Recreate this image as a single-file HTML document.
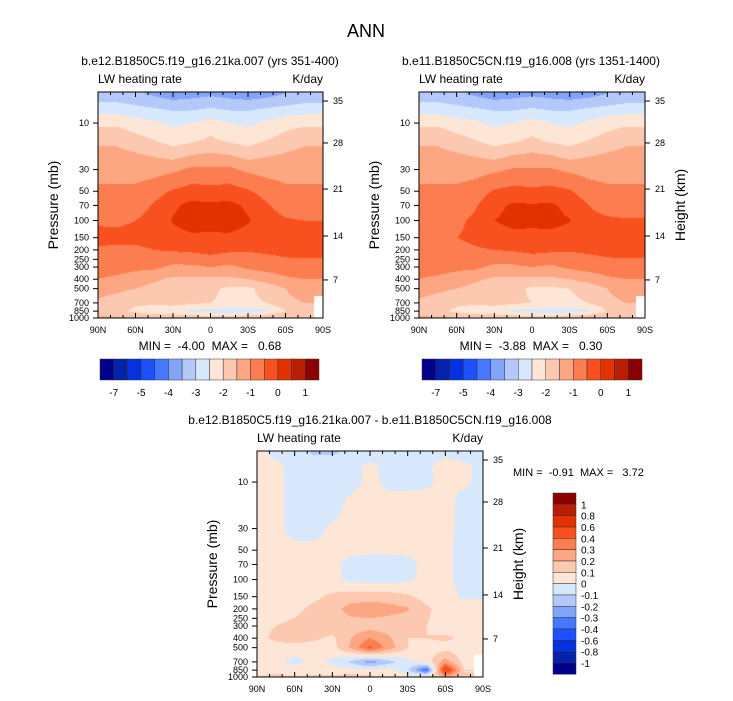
<!DOCTYPE html>
<html><head><meta charset="utf-8"><style>
body{margin:0;background:#fff;width:733px;height:701px;overflow:hidden;position:relative;font-family:"Liberation Sans",sans-serif}
canvas{position:absolute}
svg{position:absolute;left:0;top:0}
text{white-space:pre}
</style></head><body>
<canvas id="cA" width="225" height="226" style="left:98px;top:92px"></canvas>
<canvas id="cB" width="226" height="226" style="left:419px;top:92px"></canvas>
<canvas id="cC" width="226" height="226" style="left:257px;top:451px"></canvas>
<svg id="ov" width="733" height="701" font-family="Liberation Sans, sans-serif" xml:space="preserve"></svg>
<script>
const pLevels=[5,7,10,15,20,30,50,70,100,150,200,300,400,500,700,850,1000];
const lats=[90,75,60,45,30,15,0,-15,-30,-45,-60,-75,-90];
const pTicks=[10,30,50,70,100,150,200,250,300,400,500,700,850,1000];
const hTickLabels=["35","28","21","14","7"];
const hTickP=[5.94,16.0,47.5,144,407];
const xTickLabels=["90N","60N","30N","0","30S","60S","90S"];
const levelsAB=[-7,-6,-5,-4.5,-4,-3.5,-3,-2.5,-2,-1.5,-1,-0.5,0,0.5,1];
const labelsAB=["-7","-5","-4","-3","-2","-1","0","1"];
const levelsC=[-1,-0.8,-0.6,-0.4,-0.3,-0.2,-0.1,0,0.1,0.2,0.3,0.4,0.6,0.8,1];
const labelsC=["1","0.8","0.6","0.4","0.3","0.2","0.1","0","-0.1","-0.2","-0.3","-0.4","-0.6","-0.8","-1"];
const colors=["#00008b","#0522aa","#0532e0","#1e50ff","#4678ff","#82a5fa","#b4c8fa","#d7e8fc","#fee6d6","#fdc8b0","#fca682","#fb7d50","#f8501e","#e13200","#b91e00","#8b0000"];
const N=NaN;
const fieldA=[
[-3.3,-3.3,-3.4,-3.6,-3.8,-3.7,-3.6,-3.7,-3.8,-3.7,-3.5,-3.4,-3.4],
[-2.8,-2.8,-2.9,-3.0,-3.1,-3.1,-3.0,-3.1,-3.1,-3.0,-2.9,-2.8,-2.8],
[-2.1,-2.1,-2.3,-2.4,-2.6,-2.5,-2.3,-2.5,-2.6,-2.4,-2.2,-2.1,-2.1],
[-1.6,-1.6,-1.8,-2.0,-2.2,-2.1,-1.9,-2.1,-2.2,-2.0,-1.8,-1.6,-1.6],
[-1.4,-1.4,-1.5,-1.6,-1.8,-1.6,-1.5,-1.6,-1.8,-1.6,-1.5,-1.4,-1.4],
[-1.2,-1.2,-1.2,-1.2,-1.1,-0.9,-0.9,-0.9,-1.1,-1.2,-1.2,-1.2,-1.2],
[-0.9,-0.9,-0.9,-0.7,-0.45,-0.3,-0.35,-0.3,-0.45,-0.7,-0.9,-0.9,-0.9],
[-0.8,-0.8,-0.7,-0.45,-0.1,0.15,0.1,0.15,-0.1,-0.45,-0.7,-0.8,-0.8],
[-0.6,-0.6,-0.5,-0.35,0.05,0.25,0.2,0.25,0.05,-0.3,-0.45,-0.5,-0.5],
[-0.3,-0.35,-0.35,-0.3,-0.2,-0.1,-0.1,-0.1,-0.2,-0.3,-0.3,-0.3,-0.3],
[-0.6,-0.6,-0.6,-0.5,-0.45,-0.4,-0.3,-0.4,-0.45,-0.4,-0.35,-0.3,-0.3],
[-0.8,-0.8,-0.9,-0.9,-1.1,-1.1,-1.0,-1.1,-0.9,-0.8,-0.7,-0.7,-0.7],
[-1.0,-1.1,-1.2,-1.4,-1.6,-1.6,-1.6,-1.6,-1.5,-1.3,-1.1,-1.0,-1.0],
[-1.3,-1.4,-1.5,-1.7,-1.8,-1.8,-1.9,-2.1,-2.1,-1.8,-1.5,-1.3,-1.3],
[-1.6,-1.7,-1.9,-1.9,-1.8,-1.9,-2.0,-2.1,-2.1,-2.0,-1.6,-1.5,N],
[-1.8,-1.9,-2.1,-2.3,-2.4,-2.6,-2.7,-2.8,-2.8,-2.6,-2.0,-1.8,N],
[-1.4,-1.4,-1.5,-1.6,-1.6,-1.6,-1.7,-1.7,-1.5,-1.4,-1.5,-1.6,N]];
const fieldB=[
[-3.3,-3.3,-3.4,-3.6,-3.8,-3.7,-3.6,-3.7,-3.8,-3.7,-3.5,-3.4,-3.4],
[-2.8,-2.8,-2.9,-3.0,-3.1,-3.1,-3.0,-3.1,-3.1,-3.0,-2.9,-2.8,-2.8],
[-2.1,-2.1,-2.3,-2.4,-2.6,-2.5,-2.3,-2.5,-2.6,-2.4,-2.2,-2.1,-2.1],
[-1.6,-1.6,-1.8,-2.0,-2.2,-2.1,-1.9,-2.1,-2.2,-2.0,-1.8,-1.6,-1.6],
[-1.4,-1.4,-1.5,-1.6,-1.8,-1.6,-1.5,-1.6,-1.8,-1.6,-1.5,-1.4,-1.4],
[-1.2,-1.2,-1.2,-1.2,-1.1,-0.95,-0.95,-0.95,-1.1,-1.2,-1.2,-1.2,-1.2],
[-0.9,-0.9,-0.9,-0.75,-0.45,-0.35,-0.4,-0.35,-0.45,-0.75,-0.9,-0.9,-0.9],
[-0.8,-0.8,-0.75,-0.55,-0.15,0.08,0.05,0.08,-0.15,-0.5,-0.75,-0.8,-0.8],
[-0.7,-0.7,-0.6,-0.4,0.0,0.15,0.12,0.15,0.02,-0.3,-0.4,-0.45,-0.45],
[-0.6,-0.55,-0.5,-0.4,-0.25,-0.15,-0.15,-0.15,-0.2,-0.3,-0.3,-0.3,-0.3],
[-0.7,-0.7,-0.65,-0.55,-0.5,-0.45,-0.35,-0.4,-0.45,-0.4,-0.35,-0.3,-0.3],
[-0.8,-0.8,-0.9,-0.9,-1.1,-1.1,-1.0,-1.1,-0.9,-0.8,-0.7,-0.7,-0.7],
[-1.0,-1.1,-1.2,-1.4,-1.6,-1.6,-1.6,-1.6,-1.5,-1.3,-1.1,-1.0,-1.0],
[-1.3,-1.4,-1.5,-1.7,-1.8,-1.8,-2.1,-2.1,-2.0,-1.8,-1.5,-1.3,-1.3],
[-1.6,-1.7,-1.9,-1.9,-1.8,-1.9,-2.0,-2.1,-2.1,-2.0,-1.6,-1.5,N],
[-1.8,-1.9,-2.1,-2.3,-2.4,-2.6,-2.7,-2.8,-2.8,-2.6,-2.0,-1.8,N],
[-1.4,-1.4,-1.5,-1.6,-1.6,-1.6,-1.7,-1.7,-1.5,-1.4,-1.5,-1.6,N]];
const fieldC=[
[0.03,-0.03,-0.06,-0.11,-0.11,-0.08,-0.06,-0.06,-0.06,-0.05,-0.03,-0.05,-0.05],
[0.04,0.03,-0.04,-0.05,-0.05,-0.04,0.03,-0.04,-0.04,-0.02,0.05,0.03,-0.04],
[0.04,0.03,-0.04,-0.05,-0.05,-0.04,0.03,-0.03,-0.03,-0.02,0.03,0.02,-0.04],
[0.04,0.03,-0.04,-0.05,-0.04,0.02,0.04,0.03,0.03,0.03,0.03,-0.03,-0.04],
[0.04,0.03,-0.04,-0.05,-0.03,0.03,0.04,0.03,0.03,0.03,0.03,-0.03,-0.04],
[0.04,0.03,-0.04,-0.04,0.02,0.03,0.04,0.03,0.03,0.03,0.03,-0.03,-0.04],
[0.04,0.03,0.03,0.03,0.03,0.03,0.02,0.02,0.02,0.03,0.02,-0.03,-0.04],
[0.04,0.03,0.03,0.03,0.03,-0.04,-0.05,-0.05,-0.03,0.03,0.02,-0.03,-0.04],
[0.04,0.03,0.03,0.03,0.03,-0.03,-0.04,-0.04,-0.02,0.03,0.02,-0.03,-0.04],
[0.04,0.05,0.06,0.08,0.12,0.15,0.16,0.15,0.12,0.06,0.03,-0.01,-0.01],
[0.05,0.06,0.08,0.12,0.16,0.24,0.26,0.24,0.21,0.12,0.05,0.04,0.04],
[0.08,0.1,0.12,0.14,0.15,0.15,0.15,0.14,0.13,0.1,0.05,0.05,0.05],
[0.07,0.12,0.15,0.12,0.08,0.2,0.3,0.22,0.1,0.1,0.12,0.08,0.06],
[0.05,0.06,0.06,0.05,0.06,0.22,0.42,0.25,0.1,0.05,0.06,0.05,0.05],
[0.03,0.03,-0.04,0.03,-0.02,-0.12,-0.25,-0.14,-0.03,0.05,0.25,0.06,N],
[0.06,0.08,0.06,0.05,0.04,0.03,0.02,0.04,-0.08,-0.4,0.6,0.1,N],
[0.1,0.12,0.1,0.12,0.12,0.15,0.12,0.1,0.06,0.1,0.2,0.1,N]];

const PH=226, PTOP=Math.log10(4.8), PBOT=3;
function yOfP(p){return (Math.log10(p)-PTOP)/(PBOT-PTOP)*PH;}
function xOfLat(lat,w){return (90-lat)/180*w;}
function colorIdx(v,lev){let i=0;while(i<lev.length&&v>=lev[i])i++;return i;}
function hex(c){return [parseInt(c.substr(1,2),16),parseInt(c.substr(3,2),16),parseInt(c.substr(5,2),16)];}
const rgb=colors.map(hex);
const lp=pLevels.map(p=>Math.log10(p));
function sample(f,lat,p){
  const l=Math.log10(p);
  let r=0;while(r<lp.length-2&&l>lp[r+1])r++;
  let ty=(l-lp[r])/(lp[r+1]-lp[r]);ty=Math.max(0,Math.min(1,ty));
  let cf=(90-lat)/15;let c=Math.min(11,Math.floor(cf));let tx=cf-c;
  const nr=ty<0.5?r:r+1,nc=tx<0.5?c:c+1;
  if(isNaN(f[nr][nc]))return NaN;
  const g=(a,b)=>isNaN(f[a][b])?f[nr][nc]:f[a][b];
  return (1-ty)*((1-tx)*g(r,c)+tx*g(r,c+1))+ty*((1-tx)*g(r+1,c)+tx*g(r+1,c+1));
}
function draw(id,f,lev){
  const cv=document.getElementById(id),ctx=cv.getContext('2d');
  const w=cv.width,h=cv.height,img=ctx.createImageData(w,h);
  for(let y=0;y<h;y++){const p=Math.pow(10,PTOP+(y+0.5)/h*(PBOT-PTOP));
    for(let x=0;x<w;x++){const lat=90-(x+0.5)/w*180;const v=sample(f,lat,p);
      const k=(y*w+x)*4;let c=[255,255,255];if(!isNaN(v))c=rgb[colorIdx(v,lev)];
      img.data[k]=c[0];img.data[k+1]=c[1];img.data[k+2]=c[2];img.data[k+3]=255;}}
  ctx.putImageData(img,0,0);
}
draw('cA',fieldA,levelsAB);draw('cB',fieldB,levelsAB);draw('cC',fieldC,levelsC);

const svg=document.getElementById('ov');const NS="http://www.w3.org/2000/svg";
function el(t,a,txt){const e=document.createElementNS(NS,t);for(const k in a)e.setAttribute(k,a[k]);if(txt!==undefined)e.textContent=txt;svg.appendChild(e);return e;}
function txt(x,y,s,size,anchor,name,extra){const e=el('text',Object.assign({x:x,y:y,'font-size':size,'text-anchor':anchor||'middle',fill:'#000'},extra||{}),s);
  
  return e;}
function panel(x0,y0,w,leftTitle,rightTitle,tag){
  const fr=el('rect',{x:x0,y:y0,width:w,height:PH,fill:'none',stroke:'#000','stroke-width':1});
  
  
  txt(x0,y0-9,'LW heating rate',12,'start',tag+'-variable-label');
  txt(x0+w,y0-9,'K/day',12,'end',tag+'-units-label');
  for(let lat=90;lat>=-90;lat-=10){const x=x0+xOfLat(lat,w);const maj=lat%30===0;const L=maj?5:3;
    el('line',{x1:x,y1:y0+PH,x2:x,y2:y0+PH-L,stroke:'#000'});el('line',{x1:x,y1:y0,x2:x,y2:y0+L,stroke:'#000'});}
  xTickLabels.forEach((s,i)=>txt(x0+i*w/6,y0+PH+15,s,9,'middle',tag+'-x-tick-label'));
  pTicks.forEach(p=>{const y=y0+yOfP(p);el('line',{x1:x0-5,y1:y,x2:x0,y2:y,stroke:'#000'});
    txt(x0-9,y+3,String(p),9,'end',tag+'-y-tick-label');});
  hTickP.forEach((p,i)=>{const y=y0+yOfP(p);el('line',{x1:x0+w,y1:y,x2:x0+w+5,y2:y,stroke:'#000'});
    txt(x0+w+10,y+3,hTickLabels[i],9,'start',tag+'-height-tick-label');});
  if(leftTitle)txt(0,0,'Pressure (mb)',14,'middle',tag+'-y-axis-title',{transform:`translate(${x0-40},${y0+PH/2}) rotate(-90)`});
  if(rightTitle)txt(0,0,'Height (km)',14,'middle',tag+'-right-axis-title',{transform:`translate(${x0+w+40},${y0+PH/2}) rotate(-90)`});
}
txt(366,37,'ANN',18,'middle','main-title');
txt(210,65,'b.e12.B1850C5.f19_g16.21ka.007 (yrs 351-400)',12,'middle','left-panel-title');
txt(531,65,'b.e11.B1850C5CN.f19_g16.008 (yrs 1351-1400)',12,'middle','right-panel-title');
txt(370,424,'b.e12.B1850C5.f19_g16.21ka.007 - b.e11.B1850C5CN.f19_g16.008',12,'middle','diff-panel-title');
panel(98,92,225,true,false,'left');
panel(419,92,226,true,true,'right');
panel(257,451,226,true,true,'diff');
txt(210,350,'MIN =  -4.00  MAX =   0.68',12,'middle','left-minmax');
txt(531,350,'MIN =  -3.88  MAX =   0.30',12,'middle','right-minmax');
txt(513,476,'MIN =  -0.91  MAX =   3.72',11,'start','diff-minmax');
function hbar(x0,w,tag){const bw=w/16;
  colors.forEach((c,i)=>{const r=el('rect',{x:x0+i*bw,y:359,width:bw,height:21,fill:c,stroke:'#333','stroke-width':0.5});
    
    });
  const idx=[1,3,5,7,9,11,13,15];
  labelsAB.forEach((s,i)=>txt(x0+idx[i]*bw,396,s,10,'middle',tag+'-colorbar-label'));}
hbar(100,219,'left');hbar(422,220,'right');
const vb=11.33;
colors.slice().reverse().forEach((c,i)=>{const r=el('rect',{x:553,y:493+i*vb,width:23,height:vb,fill:c,stroke:'#333','stroke-width':0.5});
  
  });
labelsC.forEach((s,i)=>txt(581,493+(i+1)*vb+4,s,10,'start','diff-colorbar-label'));
</script>
</body></html>
